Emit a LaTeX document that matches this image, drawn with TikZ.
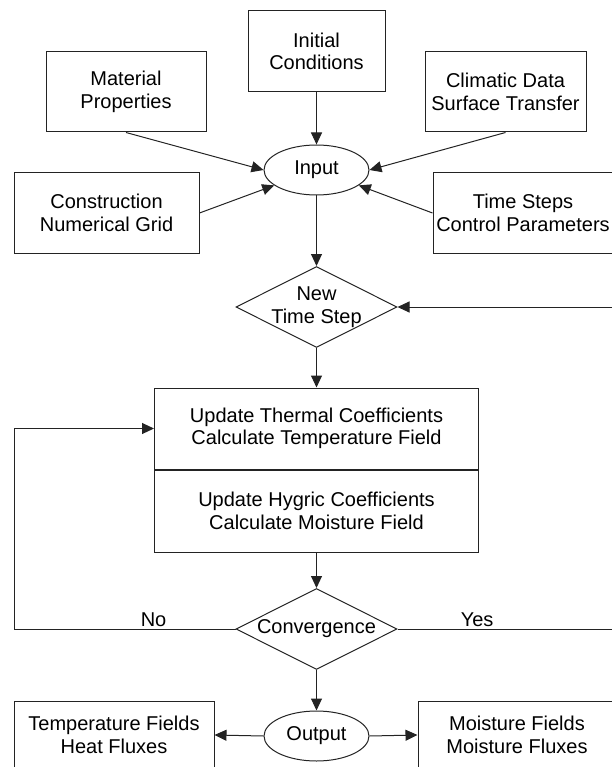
\documentclass[tikz,border=0pt]{standalone}
\usepackage{fontspec}
\setmainfont{Liberation Sans}
\usetikzlibrary{arrows.meta,positioning,shapes.geometric}
\definecolor{linegray}{RGB}{35,35,35}
\tikzset{
    infobox/.style={draw=linegray, line width=1pt, rectangle, inner sep=0pt,
        align=center, font=\fontsize{20}{22.5}\selectfont},
    oval/.style={draw=linegray, line width=1pt, ellipse, minimum width=105pt,
        minimum height=50pt, inner sep=0pt, font=\fontsize{20}{22.5}\selectfont},
    decision/.style={draw=linegray, line width=1pt, diamond, aspect=2,
        minimum width=161pt, minimum height=81pt, inner xsep=0pt, inner ysep=-4pt,
        align=center, font=\fontsize{20}{22.5}\selectfont},
    flow/.style={draw=linegray, line width=1pt, -{Triangle[length=12pt,width=11pt]}},
    tag/.style={inner sep=2pt, font=\fontsize{20}{22.5}\selectfont}
}

\begin{document}
\begin{tikzpicture}[x=1pt, y=-1pt]
    \useasboundingbox (0,0) rectangle (611,767);

    % input boxes
    \node[infobox, minimum width=137pt, minimum height=81pt] (initial) at (316.5,51.5) {Initial\\Conditions};
    \node[infobox, minimum width=160pt, minimum height=80pt] (material) at (126,92) {Material\\Properties};
    \node[infobox, minimum width=161pt, minimum height=80pt] (climatic) at (505.5,92) {Climatic Data\\Surface Transfer};
    \node[infobox, minimum width=185pt, minimum height=80pt] (construction) at (106.5,213) {Construction\\Numerical Grid};
    \node[infobox, minimum width=180pt, minimum height=80pt] (timesteps) at (523,213) {Time Steps\\Control Parameters};
    \node[oval] (input) at (316.5,170) {Input};

    % time loop
    \node[decision] (newstep) at (316.5,307) {New\\Time Step};
    \node[infobox, minimum width=324pt, minimum height=81pt] (thermal) at (316.5,428.5)
        {Update Thermal Coefficients\\Calculate Temperature Field};
    \node[infobox, minimum width=324pt, minimum height=82pt, below=0pt of thermal] (hygric)
        {Update Hygric Coefficients\\Calculate Moisture Field};
    \node[decision] (conv) at (316.5,629) {Convergence};

    % output
    \node[oval] (output) at (316.5,736) {Output};
    \node[infobox, minimum width=200pt, minimum height=68pt] (tempout) at (114,735) {Temperature Fields\\Heat Fluxes};
    \node[infobox, minimum width=198pt, minimum height=68pt] (moistout) at (517,735) {Moisture Fields\\Moisture Fluxes};

    \coordinate (noloop) at (14,629);
    \coordinate (yesloop) at (625,629);

    \draw[flow] (initial.south) -- (input.north);
    \draw[flow] (material.south) -- (input.west);
    \draw[flow] (climatic.south) -- (input.east);
    \draw[flow] (construction.east) -- (input.-160);
    \draw[flow] (timesteps.west) -- (input.-20);
    \draw[flow] (input.south) -- (newstep.north);
    \draw[flow] (newstep.south) -- (thermal.north);
    \draw[flow] (hygric.south) -- (conv.north);
    \draw[flow] (conv.south) -- (output.north);
    \draw[flow] (output.west) -- (tempout.east);
    \draw[flow] (output.east) -- (moistout.west);
    \draw[flow] (conv.west) -- node[tag, pos=0.37, above] (nolabel) {No} (noloop) |- (thermal.west);
    \draw[flow] (conv.east) -- node[tag, pos=0.35, above] (yeslabel) {Yes} (yesloop) |- (newstep.east);
\end{tikzpicture}
\end{document}
